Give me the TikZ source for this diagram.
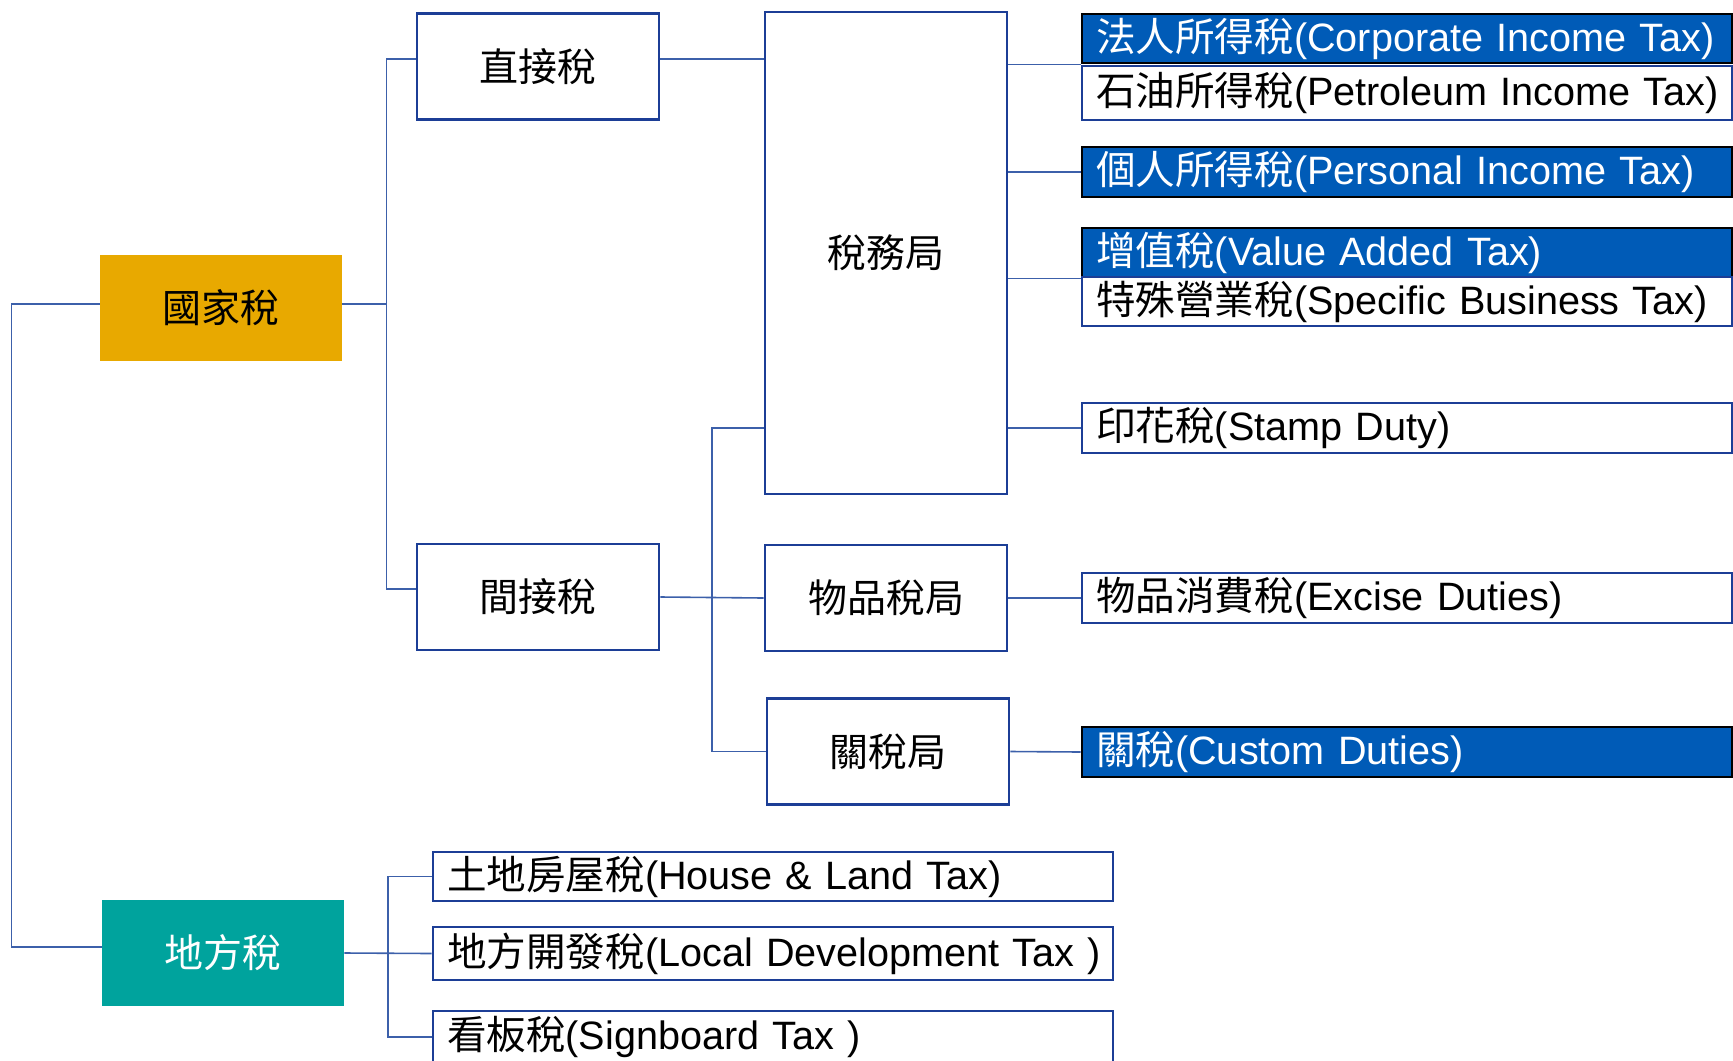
\documentclass[tikz,border=0pt]{standalone}
\usepackage{fontspec}
\setmainfont{Liberation Sans}
\newfontfamily\cjk{Noto Sans CJK TC}
\usepackage{tikz}
\definecolor{boxblue}{RGB}{28,62,150}
\definecolor{linkblue}{RGB}{60,96,170}
\definecolor{taxfill}{RGB}{0,91,183}
\definecolor{gold}{RGB}{232,169,0}
\definecolor{teal2}{RGB}{0,163,157}
\newcommand{\tax}[2]{\mbox{{\cjk #1}(#2)}}
\tikzset{
  kind/.style={minimum width=121pt, minimum height=53pt, font=\cjk\fontsize{19.5}{22}\selectfont},
  level/.style={kind, draw=boxblue, line width=1.4pt, fill=white},
  taxwhite/.style={draw=boxblue, line width=1.3pt, fill=white, text width=311pt, inner xsep=7pt, inner ysep=0pt, align=left, font=\fontsize{19.8}{24}\selectfont},
  taxblue/.style={taxwhite, draw=black, fill=taxfill, text=white},
  link/.style={draw=linkblue, line width=0.8pt}
}

\begin{document}
\begin{tikzpicture}[x=0.5pt, y=-0.5pt]
        \useasboundingbox (0,0) rectangle (1733,1060);
        % Main tax kinds
        \node[kind, fill=gold] (guojia) at (221,308) {國家稅};
        \node[kind, fill=teal2, text=white] (difang) at (223,953) {地方稅};
        % Direct / indirect and the offices
        \node[level] (zhijie) at (538,66.5) {直接稅};
        \node[level] (jianjie) at (538,597) {間接稅};
        \node[level, minimum height=241pt] (shuiwu) at (886,253) {稅務局};
        \node[level] (wupin) at (886,598) {物品稅局};
        \node[level] (guanshui) at (888,751.5) {關稅局};
        % National taxes
        \node[taxblue, minimum height=24.5pt] (faren) at (1407,38.5) {\tax{法人所得稅}{Corporate Income Tax}};
        \node[taxwhite, minimum height=27pt] (shiyou) at (1407,93) {\tax{石油所得稅}{Petroleum Income Tax}};
        \node[taxblue, minimum height=25pt] (geren) at (1407,172) {\tax{個人所得稅}{Personal Income Tax}};
        \node[taxblue, minimum height=24.5pt] (zengzhi) at (1407,252.5) {\tax{增值稅}{Value Added Tax}};
        \node[taxwhite, minimum height=24.5pt] (teshu) at (1407,301.5) {\tax{特殊營業稅}{Specific Business Tax}};
        \node[taxwhite, minimum height=25pt] (yinhua) at (1407,428) {\tax{印花稅}{Stamp Duty}};
        \node[taxwhite, minimum height=25pt] (excise) at (1407,598) {\tax{物品消費稅}{Excise Duties}};
        \node[taxblue, minimum height=25pt] (custom) at (1407,752) {\tax{關稅}{Custom Duties}};
        % Local taxes
        \node[taxwhite, text width=326pt, minimum height=24.5pt] (house) at (773,876.5) {\tax{土地房屋稅}{House \& Land Tax}};
        \node[taxwhite, text width=326pt, minimum height=26.5pt] (localdev) at (773,953.5) {\tax{地方開發稅}{Local Development Tax }};
        \node[taxwhite, text width=326pt, minimum height=26pt] (signboard) at (773,1037) {\tax{看板稅}{Signboard Tax }};
        % Connectors
        \draw[link] ([yshift=2pt]guojia.west) -- ++(-88,0) |- ([yshift=3pt]difang.west);
        \draw[link] ([yshift=2pt]guojia.east) -- ++(44,0) coordinate (gv);
        \draw[link] ([yshift=3.75pt]zhijie.west) -| (gv) |- ([yshift=4pt]jianjie.west);
        \draw[link] ([yshift=3.75pt]zhijie.east) -- ([yshift=3.75pt]zhijie.east -| shuiwu.west);
        \draw[link] (jianjie.east) -- coordinate[pos=0.5] (jv) (wupin.west);
        \draw[link] (shuiwu.west |- yinhua.west) -| (jv) |- (guanshui.west);
        \draw[link] (shuiwu.east |- faren.south west) -- (faren.south west);
        \draw[link] (shuiwu.east |- geren.west) -- (geren.west);
        \draw[link] (shuiwu.east |- zengzhi.south west) -- (zengzhi.south west);
        \draw[link] (shuiwu.east |- yinhua.west) -- (yinhua.west);
        \draw[link] (wupin.east) -- (excise.west);
        \draw[link] (guanshui.east) -- (custom.west);
        \draw[link] (difang.east) -- coordinate[pos=0.5] (dv) (localdev.west);
        \draw[link] (house.west) -| (dv) |- (signboard.west);
    \end{tikzpicture}
\end{document}
